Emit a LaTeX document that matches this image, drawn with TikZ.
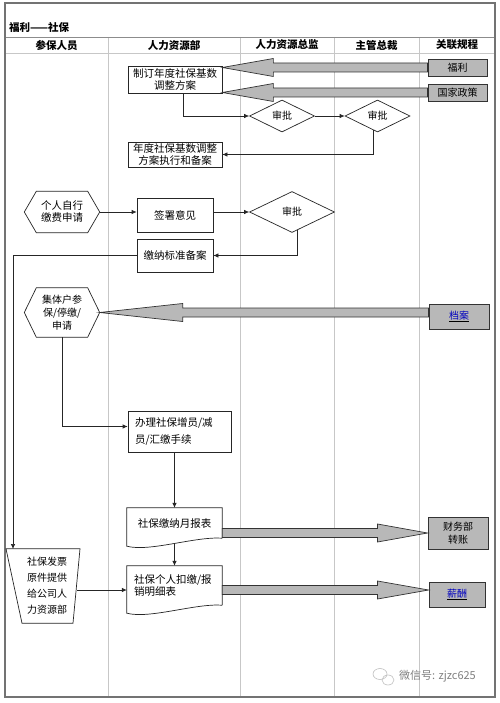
\documentclass[tikz,border=0pt]{standalone}
\usepackage{fontspec}
\setmainfont{Noto Sans CJK SC}
\usetikzlibrary{arrows.meta,calc,shapes.geometric}
\newcommand\fatarrow[3]{%
  \draw[fat] let \p1=(#1), \p2=(#2) in
   (\x1,{\y2+4.5pt}) -- ({\x2+#3pt},{\y2+4.5pt}) -- ({\x2+#3pt},{\y2+9pt}) -- (\x2,\y2)
   -- ({\x2+#3pt},{\y2-9pt}) -- ({\x2+#3pt},{\y2-4.5pt}) -- (\x1,{\y2-4.5pt}) -- cycle;}
\newcommand\hexoutline[1]{%
  \draw[shp] (#1.west) -- ([xshift=12pt]#1.north west) -- ([xshift=-12pt]#1.north east)
   -- (#1.east) -- ([xshift=-12pt]#1.south east) -- ([xshift=12pt]#1.south west) -- cycle;}
\newcommand\docoutline[1]{%
  \draw[shp] (#1.south east) -- (#1.north east) -- (#1.north west) -- ($(#1.south west)+(0,8)$)
   .. controls ($(#1.south west)+(23,14)$) and ($(#1.south east)+(-27,-2)$) .. (#1.south east);}
\begin{document}
\begin{tikzpicture}[x=1pt,y=-1pt,
  every node/.style={inner sep=0pt, font=\fontsize{10}{12}\selectfont},
  proc/.style={draw=black!85, line width=0.7pt, fill=white, align=center},
  gbox/.style={draw=black!80, line width=0.9pt, fill=black!28, align=center},
  diam/.style={diamond, aspect=2, draw=black!85, line width=0.7pt, fill=white},
  shp/.style={draw=black!85, line width=0.7pt},
  conn/.style={draw=black!85, line width=0.7pt},
  arr/.style={conn, -{Latex[length=5pt,width=4.5pt]}},
  fat/.style={draw=black!80, line width=0.7pt, fill=black!28},
  colline/.style={draw=black!22, line width=0.8pt},
  frame/.style={draw=black!55, line width=1.2pt},
  hdr/.style={font=\bfseries\fontsize{10.5}{12}\selectfont},
  link/.style={font=\fontsize{10}{12}\selectfont, text=blue!75!black}]
\useasboundingbox (0,0) rectangle (499,703);
\fill[white] (0,0) rectangle (499,703);

% lanes
\foreach \cx in {108,240,334,419} \draw[colline] (\cx,37) -- (\cx,697);
\draw[draw=black!45, line width=0.9pt] (5,37) -- (495,37);
\draw[colline] (5,53) -- (495,53);
\draw[frame] (5,3) rectangle (495,697);

\node[anchor=west, font=\bfseries\fontsize{10.5}{12}\selectfont] (title) at (9,27) {福利——社保};
\node[hdr] (h1) at (56.5,45) {参保人员};
\node[hdr] (h2) at (174,45) {人力资源部};
\node[hdr] (h3) at (287,45) {人力资源总监};
\node[hdr] (h4) at (376.5,45) {主管总裁};
\node[hdr] (h5) at (457,45) {关联规程};

% top block
\node[proc, minimum width=94pt, minimum height=27pt, font=\fontsize{10.5}{12}\selectfont] (zhiding) at (175,79.5) {制订年度社保基数\\调整方案};
\node[gbox, minimum width=59pt, minimum height=17pt] (fuli) at (457.5,67.5) {福利};
\node[gbox, minimum width=59pt, minimum height=17pt] (guojia) at (457.5,92.5) {国家政策};
\node[diam, minimum width=65pt, minimum height=32pt] (sp1) at (282,116) {审批};
\node[diam, minimum width=65pt, minimum height=32pt] (sp2) at (377.5,116) {审批};
\node[proc, minimum width=94pt, minimum height=25pt, font=\fontsize{10.5}{12}\selectfont] (niandu) at (175,154.5) {年度社保基数调整\\方案执行和备案};

\fatarrow{fuli.west}{zhiding.east |- fuli.west}{51}
\fatarrow{guojia.west}{zhiding.east |- guojia.west}{51}
\draw[arr] ([xshift=8pt]zhiding.south) |- (sp1.west);
\draw[arr] (sp1.east) -- (sp2.west);
\draw[arr] (sp2.-108) |- (niandu.east);

% individual
\node[minimum width=75pt, minimum height=41pt, align=center, font=\fontsize{10.5}{12}\selectfont] (hex1) at (62,212) {个人自行\\缴费申请};
\hexoutline{hex1}
\node[proc, minimum width=76pt, minimum height=34pt, font=\fontsize{10.5}{12}\selectfont] (qianshu) at (175,215) {签署意见};
\node[diam, minimum width=85pt, minimum height=41pt] (sp3) at (292,212) {审批};
\node[proc, minimum width=76pt, minimum height=33pt, font=\fontsize{10.5}{12}\selectfont] (jiaona) at (175,255.5) {缴纳标准备案};
\draw[arr] (hex1.east) -- (hex1.east -| qianshu.west);
\draw[arr] (qianshu.east |- sp3.west) -- (sp3.west);
\draw[arr] (sp3.-74) |- (jiaona.east);

% collective
\node[minimum width=75pt, minimum height=49pt, align=center, font=\fontsize{10}{13}\selectfont] (hex2) at (62,312.5) {集体户参\\保/停缴/\\申请};
\hexoutline{hex2}
\node[gbox, minimum width=60pt, minimum height=25pt] (dangan) at (459,316.5) {\underline{\textcolor{blue!75!black}{档案}}};
\fatarrow{dangan.west}{hex2.east}{83}

\node[proc, minimum width=103pt, minimum height=41pt, text width=89pt, inner xsep=7pt, align=left, font=\fontsize{10.5}{17}\selectfont] (banli) at (179.5,431.5) {办理社保增员/减\\员/汇缴手续};
\draw[arr] (hex2.south) |- ([yshift=5pt]banli.west);

\node[minimum width=95pt, minimum height=30pt, font=\fontsize{10.5}{12}\selectfont] (doc1) at (174.5,523) {社保缴纳月报表};
\docoutline{doc1}
\draw[arr] (banli.south -| doc1.north) -- (doc1.north);
\node[gbox, minimum width=60pt, minimum height=32pt, font=\fontsize{10}{13}\selectfont] (caiwu) at (458,533) {财务部\\转账};
\fatarrow{doc1.east}{caiwu.west}{-50}

% trapezoid
\coordinate (trapin) at (13,549);
\node[minimum width=60pt, minimum height=74pt, align=center, font=\fontsize{10}{16}\selectfont] (trap) at (47,586) {社保发票\\原件提供\\给公司人\\力资源部};
\draw[shp] ([xshift=-41pt]trap.north) -- ([xshift=33pt]trap.north) -- ([xshift=26pt]trap.south) -- ([xshift=-25pt]trap.south) -- cycle;
\draw[arr] (jiaona.west) -| (trapin);

\node[minimum width=95pt, minimum height=39pt, text width=81pt, inner xsep=7pt, align=left, font=\fontsize{10.5}{12}\selectfont] (doc2) at (174.5,585.5) {社保个人扣缴/报\\销明细表};
\docoutline{doc2}
\draw[arr] ([yshift=-6pt]doc1.south) -- (doc2.north);
\draw[arr] ([yshift=-4pt]trap.east) -- ([yshift=-4pt]trap.east -| doc2.west);
\node[gbox, minimum width=56pt, minimum height=25pt] (xinchou) at (457,594.5) {\underline{\textcolor{blue!75!black}{薪酬}}};
\fatarrow{doc2.east}{[yshift=4.5pt]xinchou.west}{-51}

% watermark
\draw[black!25, line width=0.6pt] (380,674) ellipse (7pt and 5.5pt);
\draw[black!25, line width=0.6pt] (388,680) ellipse (6pt and 5pt);
\node[anchor=west, text=black!50, font=\fontsize{11}{13}\selectfont] (wm) at (399,676) {微信号: zjzc625};
\end{tikzpicture}
\end{document}
